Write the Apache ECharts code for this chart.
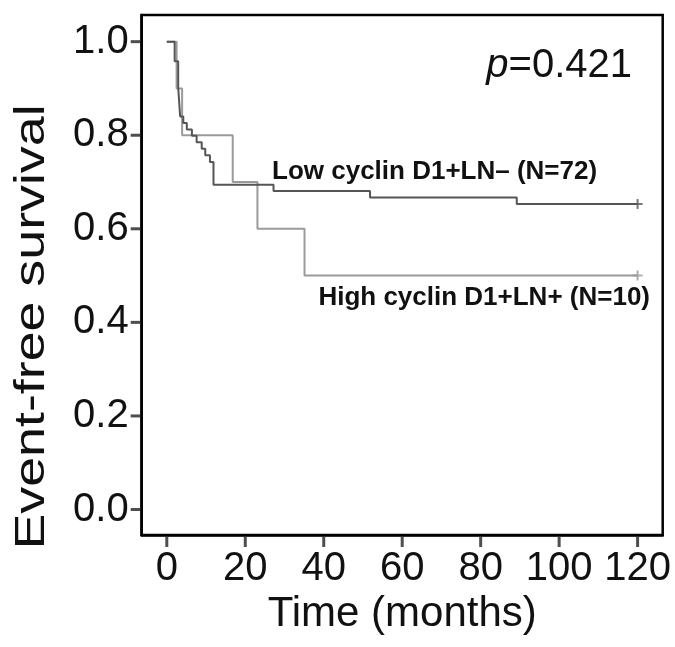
<!DOCTYPE html>
<html>
<head>
<meta charset="utf-8">
<script src="https://cdn.jsdelivr.net/npm/echarts@6/dist/echarts.min.js"></script>
<style>
html,body{margin:0;padding:0;background:#fff;}
#chart{width:675px;height:647px;}
</style>
</head>
<body>
<div id="chart"></div>
<script>
// Tick values
var xTicks = [0, 20, 40, 60, 80, 100, 120];
var yTicks = [0, 0.2, 0.4, 0.6, 0.8, 1.0];

// Low cyclin D1+LN- (N=72): step times (months) and survival after each step
var lowTimes = [0, 2.0, 2.9, 3.4, 4.2, 5.1, 6.4, 7.6, 8.9, 9.8, 11.0, 11.9, 27.2, 51.8, 89.2, 120];
var lowSurv  = [1.0, 0.958, 0.903, 0.840, 0.826, 0.812, 0.799, 0.785, 0.771, 0.757, 0.743, 0.694, 0.681, 0.667, 0.653, 0.653];

// High cyclin D1+LN+ (N=10)
var highTimes = [0, 2.5, 3.9, 16.8, 23.1, 35.1, 120];
var highSurv  = [1.0, 0.9, 0.8, 0.7, 0.6, 0.5, 0.5];

// Censor marks at the end of follow-up
var lowCensor = [[120, 0.653]];
var highCensor = [[120, 0.5]];

var lowLabel = 'Low cyclin D1+LN\u2013 (N=72)';
var highLabel = 'High cyclin D1+LN+ (N=10)';
var pText = '0.421';

var X_MIN = -6.4, X_MAX = 126.4, Y_MIN = -0.0545, Y_MAX = 1.057;

function pairs(t, s) { return t.map(function (v, i) { return [v, s[i]]; }); }

var chart = echarts.init(document.getElementById('chart'), null, {renderer: 'canvas'});
var FONT = '"Liberation Sans", Arial, Helvetica, sans-serif';
var plus = 'path://M0,5L10,5M5,0L5,10';

chart.setOption({
  animation: false,
  backgroundColor: '#fff',
  grid: {
    left: 141.7, right: 12.3, top: 15, bottom: 112,
    show: true, borderColor: '#000', borderWidth: 2.5, backgroundColor: 'transparent'
  },
  xAxis: {
    type: 'value', min: X_MIN, max: X_MAX, position: 'bottom',
    name: 'Time (months)', nameLocation: 'middle', nameGap: 58,
    nameTextStyle: {fontFamily: FONT, fontSize: 42, color: '#111'},
    axisLine: {show: true, onZero: false, lineStyle: {color: '#000', width: 2.5}},
    splitLine: {show: false},
    axisTick: {show: false},
    axisLabel: {fontFamily: FONT, fontSize: 40, color: '#111', margin: 14, customValues: xTicks,
      formatter: function (v) { return String(v); }}
  },
  yAxis: {
    type: 'value', min: Y_MIN, max: Y_MAX, position: 'left',
    axisLine: {show: true, onZero: false, lineStyle: {color: '#000', width: 2.5}},
    splitLine: {show: false},
    axisTick: {show: false},
    axisLabel: {fontFamily: FONT, fontSize: 40, color: '#111', margin: 13, customValues: yTicks,
      formatter: function (v) { return v.toFixed(1); }}
  },
  graphic: [
    {
      type: 'text', x: 32, y: 327, rotation: Math.PI / 2, scaleX: 1.28,
      style: {text: 'Event-free survival', font: '42px ' + FONT, fill: '#111', align: 'center', verticalAlign: 'middle'}
    },
    {
      type: 'text', x: 632, y: 66,
      style: {
        text: '{i|p}=' + pText, align: 'right', verticalAlign: 'middle',
        font: '40px ' + FONT, fill: '#111',
        rich: {i: {fontStyle: 'italic', fontFamily: FONT, fontSize: 40, fill: '#111'}}
      }
    },
    {
      type: 'text', x: 272, y: 172,
      style: {text: lowLabel, font: 'bold 26px ' + FONT, fill: '#111', align: 'left', verticalAlign: 'middle'}
    },
    {
      type: 'text', x: 650, y: 298,
      style: {text: highLabel, font: 'bold 26px ' + FONT, fill: '#111', align: 'right', verticalAlign: 'middle'}
    }
  ],
  series: [
    {
      type: 'line', step: 'end', data: pairs(highTimes, highSurv), showSymbol: false,
      lineStyle: {color: '#9a9a9a', width: 2}, z: 2
    },
    {
      type: 'line', step: 'end', data: pairs(lowTimes, lowSurv), showSymbol: false,
      lineStyle: {color: '#555', width: 2}, z: 3
    },
    {
      type: 'scatter', data: highCensor, symbol: plus, symbolSize: 10,
      itemStyle: {color: 'none', borderColor: '#9a9a9a', borderWidth: 2}, z: 4
    },
    {
      type: 'scatter', data: lowCensor, symbol: plus, symbolSize: 10,
      itemStyle: {color: 'none', borderColor: '#555', borderWidth: 2}, z: 4
    },
    // axis tick marks, placed on the axes' own scales
    {
      type: 'scatter', clip: false, silent: true,
      data: xTicks.map(function (v) { return [v, Y_MIN]; }),
      symbol: 'rect', symbolSize: [3, 10], symbolOffset: [0, 7],
      itemStyle: {color: '#222'}, z: 5
    },
    {
      type: 'scatter', clip: false, silent: true,
      data: yTicks.map(function (v) { return [X_MIN, v]; }),
      symbol: 'rect', symbolSize: [10, 3], symbolOffset: [-6, 0],
      itemStyle: {color: '#222'}, z: 5
    }
  ]
});
</script>
</body>
</html>
